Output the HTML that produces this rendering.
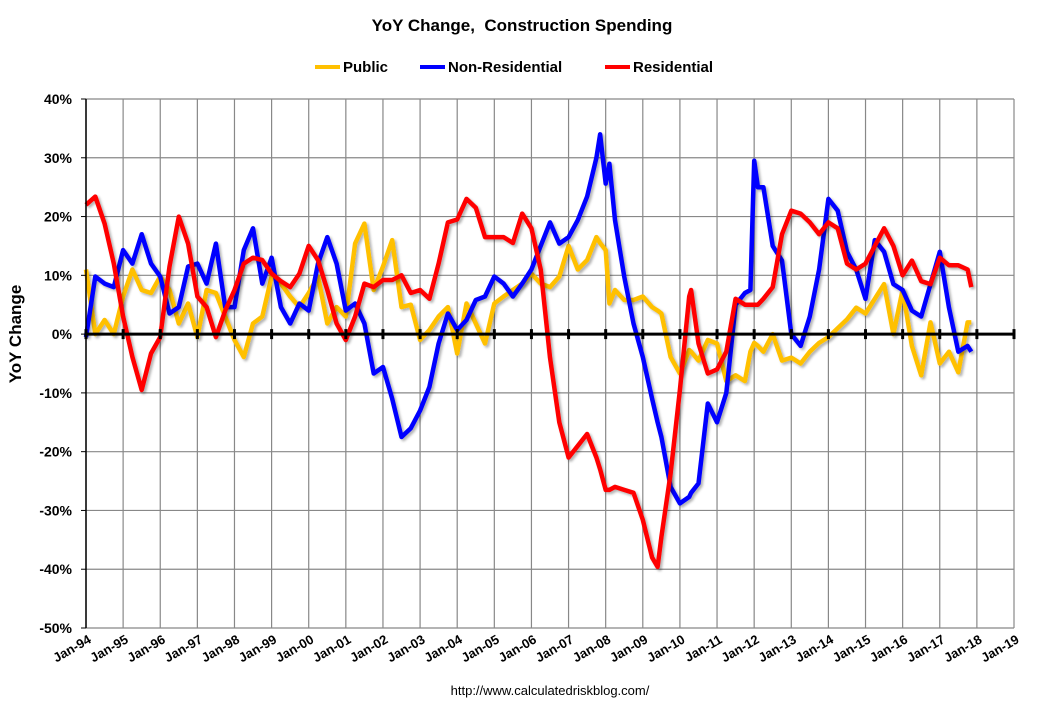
<!DOCTYPE html>
<html><head><meta charset="utf-8"><style>
body{margin:0;background:#fff;font-family:"Liberation Sans",Arial,sans-serif}
</style></head><body>
<svg id="chart" width="1061" height="700" xmlns="http://www.w3.org/2000/svg" font-family="Liberation Sans, Arial, sans-serif">
<defs><filter id="sh" x="-5%" y="-5%" width="110%" height="110%"><feDropShadow dx="2" dy="2" stdDeviation="1.2" flood-color="#000" flood-opacity="0.3"/></filter></defs>
<text x="522" y="31" text-anchor="middle" font-size="17" font-weight="bold">YoY Change,&#160; Construction Spending</text>
<g font-size="15" font-weight="bold">
<g><line x1="315" y1="67" x2="340" y2="67" stroke="#FFC000" stroke-width="4"/><text x="343" y="72">Public</text></g>
<g><line x1="420" y1="67" x2="445" y2="67" stroke="#0000FF" stroke-width="4"/><text x="448" y="72">Non-Residential</text></g>
<g><line x1="605" y1="67" x2="630" y2="67" stroke="#FF0000" stroke-width="4"/><text x="633" y="72">Residential</text></g>
</g>
<text transform="translate(21,334) rotate(-90)" text-anchor="middle" font-size="17" font-weight="bold">YoY Change</text>
<g id="grid"></g><g id="series"></g><g id="axes"></g>
<text x="550" y="695" text-anchor="middle" font-size="13">http://www.calculatedriskblog.com/</text>
</svg>
<script>
const categories = [
1994,1994.25,1994.5,1994.75, 1995,1995.25,1995.5,1995.75, 1996,1996.25,1996.5,1996.75, 1997,1997.25,1997.5,1997.75,
1998,1998.25,1998.5,1998.75, 1999,1999.25,1999.5,1999.75, 2000,2000.25,2000.5,2000.75, 2001,2001.25,2001.5,2001.75,
2002,2002.25,2002.5,2002.75, 2003,2003.25,2003.5,2003.75, 2004,2004.25,2004.5,2004.75, 2005,2005.25,2005.5,2005.75,
2006,2006.25,2006.5,2006.75, 2007,2007.25,2007.5,2007.75,2007.85, 2008,2008.1,2008.25,2008.5,2008.75,
2009,2009.25,2009.4,2009.5,2009.75, 2010,2010.25,2010.3,2010.5,2010.75, 2011,2011.25,2011.5,2011.75,2011.9,
2012,2012.1,2012.25,2012.5,2012.75, 2013,2013.25,2013.5,2013.75, 2014,2014.25,2014.5,2014.75,
2015,2015.25,2015.5,2015.75, 2016,2016.25,2016.5,2016.75, 2017,2017.25,2017.5,2017.75,2017.85];
const publicValues = [
11,0,2.4,0, 6.4,11,7.5,7, 9.8,7.5,1.8,5.2, -0.5,7.5,7,3,
-1,-3.9,1.8,3, 9.8,8.6,6.4,4.6, 7,9.8,1.8,4.6, 3,15.4,18.8,7.5,
11.5,16,4.6,5, -1,0.7,3,4.6, -3.3,5.2,1.8,-1.6, 5.2,6.4,7.5,8.6,
10.3,8.6,8,9.8, 15,11,12.6,16.5,15.5, 14.3,5.2,7.5,5.8,5.8,
6.4,4.6,4,3.5,-3.9, -6.7,-2.7,-3,-4.5,-1, -1.6,-8,-7,-8,-3,
-1.5,-2,-3,0,-4.5, -4,-5,-3,-1.5, -0.5,1,2.5,4.5,
3.5,6,8.5,0, 7.5,-2,-7,2, -5,-3,-6.5,2,2];
const nonResidentialValues = [
-0.5,9.8,8.6,8, 14.3,12,17,12, 9.8,3.5,4.6,11.5, 12,8.6,15.4,4.6,
4.6,14.3,18,8.6, 13,4.6,1.8,5.2, 4,12,16.5,12, 4,5.2,1.8,-6.7,
-5.6,-11,-17.5,-16, -13,-9,-1.6,3.5, 0.7,2.4,5.8,6.4, 9.8,8.6,6.4,8.6,
11,15,19,15.4, 16.5,19.4,23.4,30,34, 25.6,29,19.4,9.8,1.8,
-3.9,-11,-15,-17.5,-26, -28.8,-27.7,-27,-25.4,-11.8, -15,-10,5,7,7.5,
29.5,25,25,15,12.5, 0,-2,3,11, 23,21,14,11,
6,16,14,8.5, 7.5,4,3,8.5, 14,4.5,-3,-2,-3];
const residentialValues = [
22,23.4,18.8,12, 3,-3.9,-9.5,-3.3, -0.5,11.5,20,15.4, 6.4,4.6,-0.5,4,
7.5,12,13,12.6, 10.3,9,8,10.3, 15,12.6,7.5,1.8, -1,3,8.6,8,
9.2,9.2,10,7, 7.5,6,12,19, 19.5,23,21.5,16.5, 16.5,16.5,15.5,20.5,
18,11,-4,-15, -21,-19,-17,-21,-23, -26.5,-26.5,-26,-26.5,-27,
-31.6,-38,-39.6,-34.5,-23.7, -9.5,6.4,7.5,-1.6,-6.7, -6,-3,6,5,5,
5,5,6,8,17, 21,20.5,19,17, 19,18,12,11,
12,15,18,15, 10,12.5,9,8.5, 13,11.7,11.7,11,8];
const yTicks = [40,30,20,10,0,-10,-20,-30,-40,-50];
const xTickYears = [1994,1995,1996,1997,1998,1999,2000,2001,2002,2003,2004,2005,2006,2007,2008,2009,2010,2011,2012,2013,2014,2015,2016,2017,2018,2019];

const NS='http://www.w3.org/2000/svg';
const X0=86,X1=1014,Y0=99,Y1=628;
function xs(t){return X0+(t-1994)/(2019-1994)*(X1-X0);}
function ys(v){return Y0+(40-v)/90*(Y1-Y0);}
function mk(tag,attrs,parent){const e=document.createElementNS(NS,tag);for(const k in attrs)e.setAttribute(k,attrs[k]);parent.appendChild(e);return e;}
const grid=document.getElementById('grid'),axes=document.getElementById('axes'),series=document.getElementById('series');
yTicks.forEach(v=>{
  const l=mk('line',{x1:X0,x2:X1,y1:ys(v),y2:ys(v),stroke:'#888','stroke-width':1.2},grid);
  
  
  const t=mk('text',{x:72,y:ys(v)+5,'text-anchor':'end','font-size':14,'font-weight':'bold'},axes);
  t.textContent=v+'%';
  
  
  mk('line',{x1:X0-5,x2:X0,y1:ys(v),y2:ys(v),stroke:'#000','stroke-width':1},axes);
});
xTickYears.forEach(yr=>{
  const x=xs(yr);
  const g=mk('line',{x1:x,x2:x,y1:Y0,y2:Y1,stroke:'#888','stroke-width':1.2},grid);
  
  
  const t=mk('text',{'text-anchor':'end','font-size':13,'font-weight':'bold',transform:`translate(${x+6},${Y1+14}) rotate(-30)`},axes);
  t.textContent='Jan-'+String(yr).slice(2);
  
  
  mk('line',{x1:x,x2:x,y1:ys(0)-5,y2:ys(0)+5,stroke:'#000','stroke-width':3},axes);
});
const zl=mk('line',{x1:X0,x2:X1,y1:ys(0),y2:ys(0),stroke:'#000','stroke-width':3},axes);


const ya=mk('line',{x1:X0,x2:X0,y1:Y0,y2:Y1,stroke:'#000','stroke-width':1.5},axes);


function draw(vals,color,name){
  const d=vals.map((v,i)=>(i?'L':'M')+xs(categories[i]).toFixed(1)+','+ys(v).toFixed(1)).join('');
  const p=mk('path',{d:d,fill:'none',stroke:color,'stroke-width':4.5,'stroke-linejoin':'round',filter:'url(#sh)'},series);
  
  
}
draw(publicValues,'#FFC000','public-line');
draw(nonResidentialValues,'#0000FF','non-residential-line');
draw(residentialValues,'#FF0000','residential-line');
</script>
</body></html>
